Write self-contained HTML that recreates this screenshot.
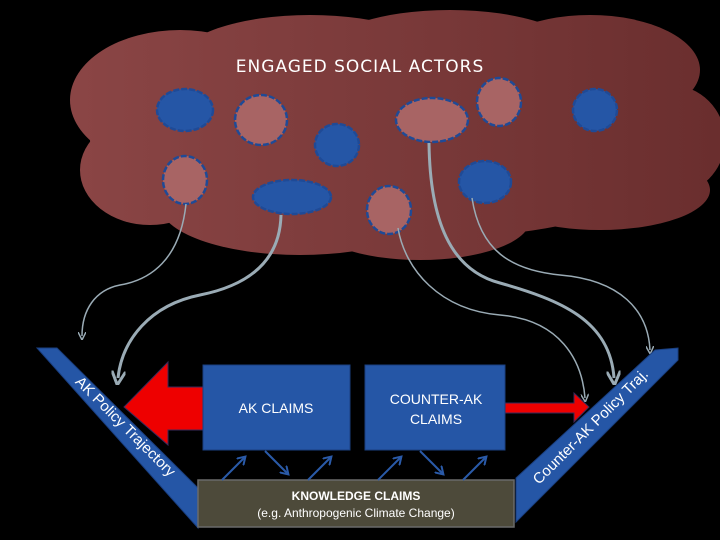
<!DOCTYPE html>
<html><head><style>html,body{margin:0;padding:0;background:#000}svg{display:block}</style></head>
<body>
<svg width="720" height="540" viewBox="0 0 720 540" xmlns="http://www.w3.org/2000/svg" font-family="Liberation Sans, sans-serif">
<defs>
<linearGradient id="bg" gradientUnits="userSpaceOnUse" x1="80" y1="0" x2="720" y2="0">
<stop offset="0" stop-color="#8a4545"/><stop offset="1" stop-color="#6a2e2e"/></linearGradient>
<marker id="ga" markerWidth="8" markerHeight="8" refX="4" refY="4" orient="auto" markerUnits="userSpaceOnUse"><path d="M0,0 L8,4 L0,8" fill="none" stroke="#9aabb5" stroke-width="1.5"/></marker>
<marker id="gb" markerWidth="14" markerHeight="14" refX="7" refY="7" orient="auto" markerUnits="userSpaceOnUse"><path d="M0,0 L14,7 L0,14" fill="none" stroke="#9aabb5" stroke-width="3"/></marker>
<marker id="ba" markerWidth="10" markerHeight="10" refX="6" refY="5" orient="auto" markerUnits="userSpaceOnUse"><path d="M0,0 L8,5 L0,10" fill="none" stroke="#2a5aa8" stroke-width="2"/></marker>
</defs>
<rect width="720" height="540" fill="#000"/>
<g fill="url(#bg)">
<ellipse cx="400" cy="140" rx="310" ry="100"/>
<ellipse cx="180" cy="100" rx="110" ry="70"/>
<ellipse cx="310" cy="60" rx="130" ry="45"/>
<ellipse cx="450" cy="55" rx="130" ry="45"/>
<ellipse cx="590" cy="70" rx="110" ry="55"/>
<ellipse cx="150" cy="170" rx="70" ry="55"/>
<ellipse cx="300" cy="205" rx="140" ry="50"/>
<ellipse cx="420" cy="220" rx="110" ry="40"/>
<ellipse cx="600" cy="190" rx="110" ry="40"/>
<ellipse cx="670" cy="140" rx="55" ry="55"/>
</g>
<text x="360" y="72" text-anchor="middle" fill="#fff" font-family="DejaVu Sans, sans-serif" font-size="17" letter-spacing="1">ENGAGED  SOCIAL  ACTORS</text>
<g stroke="#1f4a96" stroke-width="2.5" stroke-dasharray="6 2">
<ellipse cx="185" cy="110" rx="28" ry="21" fill="#2556a6"/>
<ellipse cx="261" cy="120" rx="26" ry="25" fill="#a86464"/>
<ellipse cx="337" cy="145" rx="22" ry="21" fill="#2556a6"/>
<ellipse cx="185" cy="180" rx="22" ry="24" fill="#a86464"/>
<ellipse cx="292" cy="197" rx="39" ry="17" fill="#2556a6"/>
<ellipse cx="389" cy="210" rx="22" ry="24" fill="#a86464"/>
<ellipse cx="432" cy="120" rx="36" ry="22" fill="#a86464"/>
<ellipse cx="499" cy="102" rx="22" ry="24" fill="#a86464"/>
<ellipse cx="595" cy="110" rx="22" ry="21" fill="#2556a6"/>
<ellipse cx="485" cy="182" rx="26" ry="21" fill="#2556a6"/>
</g>
<g fill="none" stroke="#9aabb5">
<path d="M186,204 C180,260 150,280 120,285 C95,290 82,310 82,336" stroke-width="1.5" marker-end="url(#ga)"/>
<path d="M281,215 C280,260 250,285 200,295 C150,305 122,340 118,378" stroke-width="3" marker-end="url(#gb)"/>
<path d="M398,228 C405,270 440,310 500,315 C560,320 582,360 585,398" stroke-width="1.5" marker-end="url(#ga)"/>
<path d="M429,143 C430,220 450,270 500,283 C560,300 610,320 614,378" stroke-width="3" marker-end="url(#gb)"/>
<path d="M472,198 C480,250 510,270 560,275 C620,280 648,310 650,350" stroke-width="1.5" marker-end="url(#ga)"/>
</g>
<polygon points="124,407 168,362 168,387 203,387 203,430 168,430 168,445" fill="#ee0000" stroke="#3a2a5a" stroke-width="1"/>
<polygon points="505,403 574,403 574,393 589,407 574,422 574,413 505,413" fill="#ee0000" stroke="#3a2a5a" stroke-width="1"/>
<polygon points="37,348 57,348 198,488 198,528" fill="#2556a6" stroke="#1a3f80" stroke-width="1"/>
<polygon points="655,350 678,348 678,360 516,522 516,478" fill="#2556a6" stroke="#1a3f80" stroke-width="1"/>
<text transform="translate(122,430) rotate(45)" text-anchor="middle" fill="#fff" font-size="15">AK Policy Trajectory</text>
<text transform="translate(594,430) rotate(-45)" text-anchor="middle" fill="#fff" font-size="15">Counter-AK Policy Traj.</text>
<rect x="203" y="365" width="147" height="85" fill="#2556a6" stroke="#1a3f80"/>
<rect x="365" y="365" width="140" height="85" fill="#2556a6" stroke="#1a3f80"/>
<text x="276" y="413" text-anchor="middle" fill="#fff" font-size="14">AK CLAIMS</text>
<text x="436" y="404" text-anchor="middle" fill="#fff" font-size="14">COUNTER-AK</text>
<text x="436" y="424" text-anchor="middle" fill="#fff" font-size="14">CLAIMS</text>
<rect x="198" y="480" width="316" height="47" fill="#4d4a3a" stroke="#6a6a6a" stroke-width="1.5"/>
<text x="356" y="500" text-anchor="middle" fill="#fff" font-size="12" font-weight="bold">KNOWLEDGE CLAIMS</text>
<text x="356" y="517" text-anchor="middle" fill="#fff" font-size="12">(e.g. Anthropogenic Climate Change)</text>
<g stroke="#2a5aa8" stroke-width="2" marker-end="url(#ba)">
<line x1="222" y1="480" x2="244" y2="458"/>
<line x1="265" y1="451" x2="287" y2="473"/>
<line x1="308" y1="480" x2="330" y2="458"/>
<line x1="378" y1="480" x2="400" y2="458"/>
<line x1="420" y1="451" x2="442" y2="473"/>
<line x1="463" y1="480" x2="485" y2="458"/>
</g>
</svg>
</body></html>
